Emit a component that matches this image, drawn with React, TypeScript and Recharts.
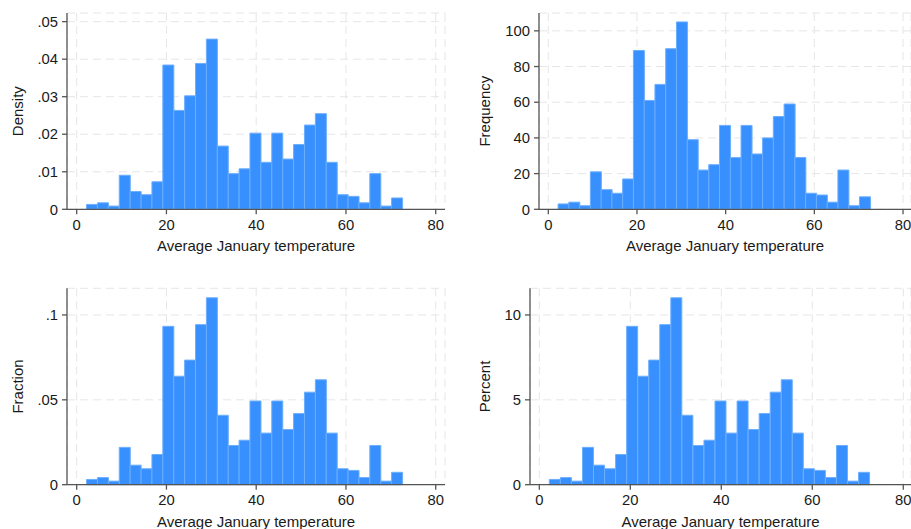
import { BarChart, Bar, XAxis, YAxis, CartesianGrid } from "recharts";

// 29 bins of tempjan (2.2 .. 72.6), bin midpoints
const binCenters = [
  3.414, 5.841, 8.269, 10.697, 13.124, 15.552, 17.98, 20.407, 22.835, 25.262,
  27.69, 30.117, 32.545, 34.972, 37.4, 39.828, 42.255, 44.683, 47.11, 49.538,
  51.966, 54.393, 56.821, 59.248, 61.676, 64.103, 66.531, 68.959, 71.386,
];

const frequency = [
  3, 4, 2, 21, 11, 9, 17, 89, 61, 70, 90, 105, 39, 22, 25, 47, 29, 47, 31, 40,
  52, 59, 29, 9, 8, 4, 22, 2, 7,
];

const density = [
  0.0013, 0.00173, 0.00086, 0.00907, 0.00475, 0.00389, 0.00734, 0.03843, 0.02634, 0.03023,
  0.03886, 0.04534, 0.01684, 0.0095, 0.01079, 0.02029, 0.01252, 0.02029, 0.01339, 0.01727,
  0.02245, 0.02548, 0.01252, 0.00389, 0.00345, 0.00173, 0.0095, 0.00086, 0.00302,
];

const fraction = [
  0.0031, 0.0042, 0.0021, 0.022, 0.0115, 0.0094, 0.0178, 0.0933, 0.0639, 0.0734,
  0.0943, 0.1101, 0.0409, 0.0231, 0.0262, 0.0493, 0.0304, 0.0493, 0.0325, 0.0419,
  0.0545, 0.0618, 0.0304, 0.0094, 0.0084, 0.0042, 0.0231, 0.0021, 0.0073,
];

const percent = [
  0.31, 0.42, 0.21, 2.2, 1.15, 0.94, 1.78, 9.33, 6.39, 7.34,
  9.43, 11.01, 4.09, 2.31, 2.62, 4.93, 3.04, 4.93, 3.25, 4.19,
  5.45, 6.18, 3.04, 0.94, 0.84, 0.42, 2.31, 0.21, 0.73,
];

const xTicks = [0, 20, 40, 60, 80];
const densityTicks = [0, 0.01, 0.02, 0.03, 0.04, 0.05];
const frequencyTicks = [0, 20, 40, 60, 80, 100];
const fractionTicks = [0, 0.05, 0.1];
const percentTicks = [0, 5, 10];

const xTitle = "Average January temperature";

const rows = binCenters.map((x, i) => ({
  x,
  density: density[i],
  frequency: frequency[i],
  fraction: fraction[i],
  percent: percent[i],
}));

const FONT = "'Liberation Sans', Arial, Helvetica, sans-serif";
const AXIS = "#555";
const TEXT = "#1a1a1a";

function fmtY(v: number) {
  if (v === 0) return "0";
  return String(v).replace(/^0\./, ".");
}

interface PanelProps {
  dataKey: string;
  yTitle: string;
  yTicks: number[];
  yMax: number;
  xDomain: [number, number];
  left: number;
  top: number;
  width: number;
  height: number;
  margin: { top: number; right: number; left: number; bottom: number };
  yAxisWidth: number;
}

function Panel(p: PanelProps) {
  return (
    <div style={{ position: "absolute", left: p.left, top: p.top }}>
      <BarChart
        width={p.width}
        height={p.height}
        data={rows}
        margin={p.margin}
        barCategoryGap={0}
        barGap={0}
      >
        <CartesianGrid stroke="#e6e6e6" strokeDasharray="8 5" strokeWidth={1} />
        <XAxis
          dataKey="x"
          type="number"
          domain={p.xDomain}
          ticks={xTicks}
          interval={0}
          height={42}
          stroke={AXIS}
          strokeWidth={1.3}
          tickSize={5}
          tickMargin={5}
          tick={{ fill: TEXT, fontSize: 14.8, fontFamily: FONT }}
          label={{
            value: xTitle,
            position: "insideBottom",
            offset: 0,
            fill: TEXT,
            fontSize: 15,
            fontFamily: FONT,
          }}
        />
        <YAxis
          type="number"
          domain={[0, p.yMax]}
          ticks={p.yTicks}
          interval={0}
          width={p.yAxisWidth}
          stroke={AXIS}
          strokeWidth={1.3}
          tickSize={5}
          tickMargin={4}
          tickFormatter={fmtY}
          tick={{ fill: TEXT, fontSize: 14.8, fontFamily: FONT }}
          label={{
            value: p.yTitle,
            angle: -90,
            position: "insideLeft",
            offset: 5,
            fill: TEXT,
            fontSize: 15,
            fontFamily: FONT,
            style: { textAnchor: "middle" },
          }}
        />
        <Bar
          dataKey={p.dataKey}
          fill="#3890ff"
          stroke="#6caeff"
          strokeWidth={1}
          isAnimationActive={false}
        />
      </BarChart>
    </div>
  );
}

export default function App() {
  return (
    <div
      style={{
        position: "fixed",
        left: 0,
        top: 0,
        width: 911,
        height: 529,
        background: "#fff",
        overflow: "hidden",
        fontFamily: FONT,
      }}
    >
      <Panel
        dataKey="density"
        yTitle="Density"
        yTicks={densityTicks}
        yMax={0.0523}
        xDomain={[-2.16, 82.07]}
        left={0}
        top={0}
        width={455}
        height={262}
        margin={{ top: 13, right: 10, left: 13, bottom: 10.7 }}
        yAxisWidth={54}
      />
      <Panel
        dataKey="frequency"
        yTitle="Frequency"
        yTicks={frequencyTicks}
        yMax={110}
        xDomain={[-2.1, 81.8]}
        left={455}
        top={0}
        width={456}
        height={262}
        margin={{ top: 13, right: 0, left: 25, bottom: 10.7 }}
        yAxisWidth={59}
      />
      <Panel
        dataKey="fraction"
        yTitle="Fraction"
        yTicks={fractionTicks}
        yMax={0.1157}
        xDomain={[-2.16, 82.07]}
        left={0}
        top={270}
        width={455}
        height={259}
        margin={{ top: 18.3, right: 10, left: 13, bottom: 2.3 }}
        yAxisWidth={54}
      />
      <Panel
        dataKey="percent"
        yTitle="Percent"
        yTicks={percentTicks}
        yMax={11.57}
        xDomain={[-2.05, 81.7]}
        left={455}
        top={270}
        width={456}
        height={259}
        margin={{ top: 18.3, right: 0, left: 25, bottom: 2.3 }}
        yAxisWidth={50}
      />
    </div>
  );
}
